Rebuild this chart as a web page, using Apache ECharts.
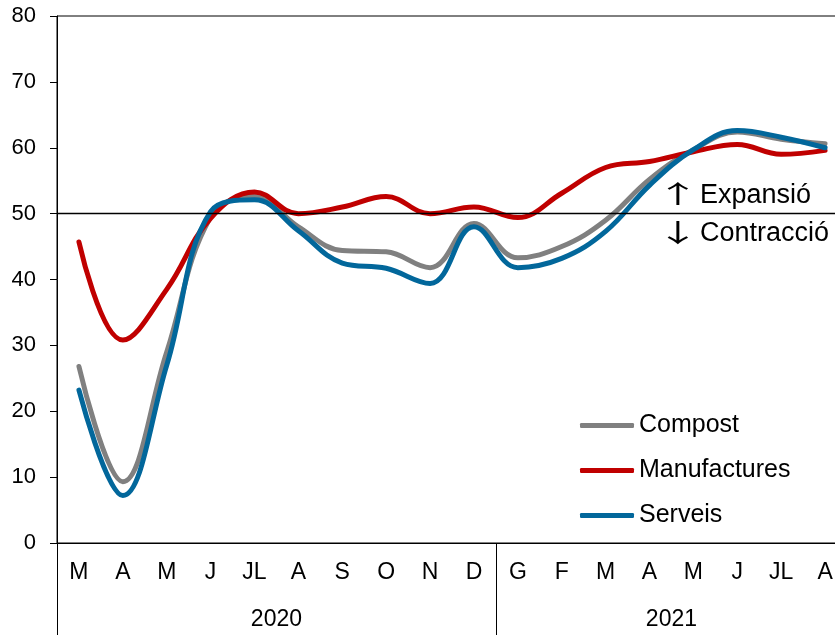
<!DOCTYPE html>
<html>
<head>
<meta charset="utf-8">
<script src="https://cdn.jsdelivr.net/npm/echarts@6/dist/echarts.min.js"></script>
<style>
html,body{margin:0;padding:0;background:#fff;width:835px;height:635px;overflow:hidden;}
#chart{width:860px;height:635px;}
</style>
</head>
<body>
<div id="chart"></div>
<script>
// ---- data ----
var months = ['M','A','M','J','JL','A','S','O','N','D','G','F','M','A','M','J','JL','A'];
var years = ['2020','2021'];
var monthsPerYear = [10, 8];
var compost =      [26.8, 9.3, 29.0, 49.5, 52.6, 48.0, 44.4, 44.2, 41.8, 48.5, 43.3, 45.0, 49.0, 55.2, 59.7, 62.4, 61.3, 60.6];
var manufactures = [45.7, 30.8, 38.5, 49.3, 53.3, 50.0, 51.0, 52.6, 50.0, 51.0, 49.4, 53.1, 57.0, 57.9, 59.4, 60.5, 59.0, 59.6];
var serveis =      [23.2, 7.2, 27.0, 50.3, 52.1, 47.4, 42.5, 41.7, 39.4, 48.0, 41.8, 43.2, 47.3, 54.3, 59.7, 62.6, 61.6, 60.0];
var threshold = 50;
var seriesNames = ['Compost','Manufactures','Serveis'];
var upArrow = '\u2191', upText = 'Expansió';
var downArrow = '\u2193', downText = 'Contracció';

// ---- derived year boundaries / centers ----
var bounds = [0], centers = [];
monthsPerYear.forEach(function(n, i){ var s = bounds[i]; bounds.push(s + n); centers.push(s + n / 2); });
var yearAt = {};
centers.forEach(function(c, i){ yearAt[c] = years[i]; });

var FONT = "'Liberation Sans', Arial, sans-serif";
var chart = echarts.init(document.getElementById('chart'), null, {renderer:'canvas'});

var colors = ['#808080', '#C00000', '#02679B'];
function mkSeries(name, data, color){
  return {
    name: name, type: 'line', data: data, smooth: 0.4, showSymbol: false,
    lineStyle: {width: 5, color: color, cap: 'round'}, itemStyle: {color: color},
    z: 3, silent: true
  };
}

chart.setOption({
  animation: false,
  backgroundColor: '#fff',
  grid: {left: 57, top: 16, width: 790, height: 527, show: true, borderColor: '#000', borderWidth: 1, containLabel: false},
  legend: {
    orient: 'vertical', left: 580, top: 413, padding: 0, itemWidth: 54, itemHeight: 5, itemGap: 20,
    icon: 'roundRect', data: seriesNames,
    textStyle: {fontFamily: FONT, fontSize: 25, color: '#000', padding: [0,0,0,0]},
    selectedMode: false
  },
  xAxis: [
    {
      type: 'category', data: months, boundaryGap: true, position: 'bottom',
      axisLine: {show: true, lineStyle: {color: '#000', width: 1}},
      axisTick: {show: false},
      axisLabel: {interval: 0, fontFamily: FONT, fontSize: 23, color: '#000', margin: 18}
    },
    {
      type: 'value', min: 0, max: bounds[bounds.length-1], position: 'bottom',
      axisLine: {show: false}, splitLine: {show: false},
      axisTick: {show: true, customValues: bounds.slice(0, bounds.length-1), length: 92, inside: false, lineStyle: {color: '#000', width: 1}},
      axisLabel: {customValues: centers, formatter: function(v){ return yearAt[v] || ''; }, fontFamily: FONT, fontSize: 23, color: '#000', margin: 65}
    }
  ],
  yAxis: {
    type: 'value', min: 0, max: 80, interval: 10,
    axisLine: {show: true, lineStyle: {color: '#000', width: 1}},
    axisTick: {show: true, length: 7, lineStyle: {color: '#000'}},
    splitLine: {show: false},
    axisLabel: {fontFamily: FONT, fontSize: 22, color: '#000', margin: 21}
  },
  series: [
    {
      name: 'threshold', type: 'line', data: months.map(function(){ return null; }), z: 1, silent: true,
      markLine: {silent: true, symbol: 'none', label: {show: false}, lineStyle: {color: '#000', width: 1.3, type: 'solid'},
        data: [{yAxis: threshold}]}
    },
    mkSeries(seriesNames[0], compost, colors[0]),
    mkSeries(seriesNames[1], manufactures, colors[1]),
    mkSeries(seriesNames[2], serveis, colors[2])
  ]
});

var y50 = chart.convertToPixel({yAxisIndex: 0}, threshold);
var arrowFont = "25px 'Noto Sans CJK SC', sans-serif";
var textFont = '27px ' + FONT;
chart.setOption({
  graphic: [
    {type: 'text', x: 656, y: y50 - 33, scaleX: 1.75, silent: true, style: {text: upArrow, font: arrowFont, fill: '#000'}},
    {type: 'text', x: 700, y: y50 - 32, silent: true, style: {text: upText, font: textFont, fill: '#000'}},
    {type: 'text', x: 656, y: y50 + 6, scaleX: 1.75, silent: true, style: {text: downArrow, font: arrowFont, fill: '#000'}},
    {type: 'text', x: 700, y: y50 + 6, silent: true, style: {text: downText, font: textFont, fill: '#000'}}
  ]
});
</script>
</body>
</html>
